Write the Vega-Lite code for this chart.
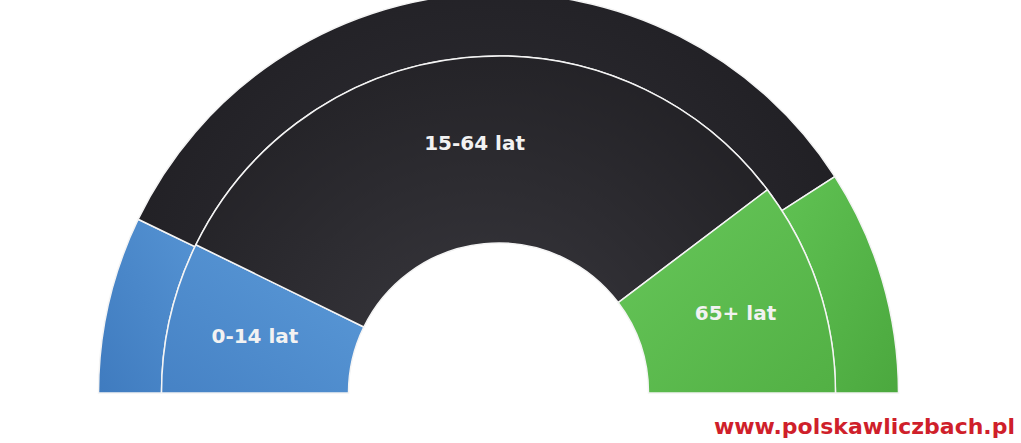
{
  "$schema": "https://vega.github.io/schema/vega-lite/v6.json",
  "width": 1021,
  "height": 443,
  "autosize": {"type": "none"},
  "padding": 0,
  "background": "white",
  "view": {"stroke": null},
  "title": {
    "text": "www.polskawliczbach.pl",
    "orient": "bottom",
    "anchor": "end",
    "frame": "group",
    "offset": -26,
    "dx": -6,
    "color": "#cf1f2b",
    "font": "DejaVu Sans",
    "fontSize": 22,
    "fontWeight": "bold"
  },
  "data": {
    "values": [
      {"ring": "outer", "age": "0-14 lat", "value": 14.3},
      {"ring": "outer", "age": "15-64 lat", "value": 67.5},
      {"ring": "outer", "age": "65+ lat", "value": 18.2},
      {"ring": "inner", "age": "0-14 lat", "value": 14.5},
      {"ring": "inner", "age": "15-64 lat", "value": 64.9},
      {"ring": "inner", "age": "65+ lat", "value": 20.6}
    ]
  },
  "encoding": {
    "theta": {
      "field": "value",
      "type": "quantitative",
      "stack": "normalize",
      "scale": {"range": [-1.5708, 1.5708]}
    },
    "detail": {"field": "age", "type": "nominal"},
    "order": {"field": "age", "type": "ordinal"}
  },
  "layer": [
    {
      "transform": [{"filter": "datum.ring === 'outer'"}],
      "mark": {
        "type": "arc",
        "x": {"expr": "width/2 - 12"},
        "y": {"expr": "height - 50"},
        "radius": 400,
        "radius2": 337,
        "stroke": "#f4f4f4",
        "strokeWidth": 1.5
      },
      "encoding": {
        "color": {
          "condition": [
            {"test": "datum.age === '0-14 lat'", "value": {"gradient": "linear", "x1": 0, "y1": 1, "x2": 1, "y2": 0, "stops": [{"offset": 0, "color": "#3f7bbf"}, {"offset": 1, "color": "#5593d3"}]}},
            {"test": "datum.age === '65+ lat'", "value": {"gradient": "linear", "x1": 0, "y1": 0, "x2": 1, "y2": 1, "stops": [{"offset": 0, "color": "#60c253"}, {"offset": 1, "color": "#4ba83e"}]}}
          ],
          "value": {"gradient": "radial", "x1": 0.5, "y1": 0.8, "r1": 0, "x2": 0.5, "y2": 0.8, "r2": 0.7, "stops": [{"offset": 0, "color": "#34333a"}, {"offset": 1, "color": "#1c1b1f"}]}
        }
      }
    },
    {
      "transform": [{"filter": "datum.ring === 'inner'"}],
      "mark": {
        "type": "arc",
        "x": {"expr": "width/2 - 12"},
        "y": {"expr": "height - 50"},
        "radius": 337,
        "radius2": 150,
        "stroke": "#f4f4f4",
        "strokeWidth": 1.5
      },
      "encoding": {
        "color": {
          "condition": [
            {"test": "datum.age === '0-14 lat'", "value": {"gradient": "linear", "x1": 0, "y1": 1, "x2": 1, "y2": 0, "stops": [{"offset": 0, "color": "#4682c5"}, {"offset": 1, "color": "#5b9ad8"}]}},
            {"test": "datum.age === '65+ lat'", "value": {"gradient": "linear", "x1": 0, "y1": 0, "x2": 1, "y2": 1, "stops": [{"offset": 0, "color": "#67c75a"}, {"offset": 1, "color": "#52b044"}]}}
          ],
          "value": {"gradient": "radial", "x1": 0.5, "y1": 0.85, "r1": 0, "x2": 0.5, "y2": 0.85, "r2": 0.75, "stops": [{"offset": 0, "color": "#3b3a40"}, {"offset": 1, "color": "#1e1d21"}]}
        }
      }
    },
    {
      "transform": [{"filter": "datum.ring === 'inner'"}],
      "mark": {
        "type": "text",
        "x": {"expr": "width/2 - 12"},
        "y": {"expr": "height - 50"},
        "radius": 250,
        "font": "DejaVu Sans",
        "fontSize": 20,
        "fontWeight": "bold",
        "color": "#f2f2f2"
      },
      "encoding": {
        "text": {"field": "age", "type": "nominal"}
      }
    }
  ]
}
